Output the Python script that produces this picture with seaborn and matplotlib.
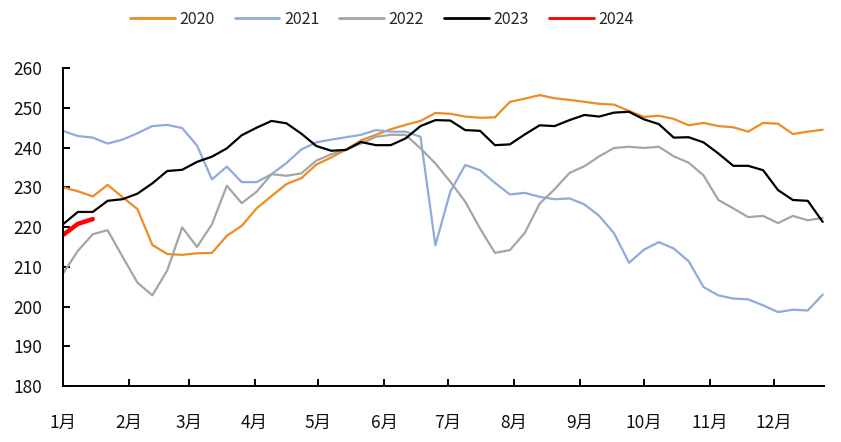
import numpy as np
import pandas as pd
import matplotlib
matplotlib.use("Agg")
import matplotlib.pyplot as plt
import seaborn as sns

# weekly values, one point per week starting at 1月
y2020 = [230, 229, 227.7, 230.6, 227.5, 224.5, 215.5, 213.2, 213, 213.4,
         213.5, 217.8, 220.3, 224.7, 227.8, 230.8, 232.3, 235.7, 237.5, 239.5,
         241.8, 243.2, 244.6, 245.7, 246.7, 248.7, 248.5, 247.8, 247.5, 247.6,
         251.5, 252.3, 253.2, 252.4, 252, 251.5, 251, 250.8, 249.2, 247.7,
         248, 247.2, 245.6, 246.2, 245.4, 245.1, 244, 246.2, 246, 243.4,
         244, 244.5]
y2021 = [244.2, 242.9, 242.5, 241, 242, 243.6, 245.4, 245.7, 244.9, 240.5,
         232, 235.2, 231.3, 231.3, 233.3, 236.1, 239.5, 241.3, 242, 242.6,
         243.2, 244.4, 244, 244, 242.7, 215.4, 228.9, 235.6, 234.3, 231.1,
         228.2, 228.6, 227.6, 227, 227.2, 225.7, 222.8, 218.4, 211, 214.3,
         216.2, 214.6, 211.4, 204.9, 202.8, 202, 201.8, 200.3, 198.6, 199.2,
         199, 203]
y2022 = [208.3, 214, 218.2, 219.2, 212.5, 206, 202.8, 209.1, 219.9, 215,
         220.7, 230.4, 226, 228.9, 233.3, 232.9, 233.5, 236.7, 238.3, 239.5,
         241, 242.7, 243.2, 243.2, 239.8, 236, 231.4, 226.4, 219.6, 213.5,
         214.2, 218.5, 225.9, 229.5, 233.6, 235.3, 237.8, 239.9, 240.2, 239.9,
         240.2, 237.8, 236.2, 233, 226.8, 224.7, 222.5, 222.8, 221, 222.8,
         221.7, 222.3]
y2023 = [220.7, 223.8, 223.8, 226.6, 227, 228.4, 231, 234.1, 234.4, 236.4,
         237.7, 239.8, 243.1, 245, 246.7, 246.1, 243.5, 240.4, 239.2, 239.4,
         241.4, 240.6, 240.6, 242.3, 245.4, 246.9, 246.8, 244.4, 244.2, 240.6,
         240.8, 243.3, 245.6, 245.4, 246.9, 248.2, 247.8, 248.8, 249, 247.1,
         245.9, 242.5, 242.6, 241.3, 238.5, 235.4, 235.4, 234.3, 229.3, 226.8,
         226.6, 221.3]
y2024 = [218, 220.8, 222]

years = ["2020", "2021", "2022", "2023", "2024"]
series = [y2020, y2021, y2022, y2023, y2024]
colors = ["#F08A24", "#8FAADC", "#A5A5A5", "#000000", "#FF0000"]
widths = [1.6, 1.6, 1.6, 1.6, 3.2]

months = ["1月", "2月", "3月", "4月", "5月", "6月", "7月", "8月", "9月", "10月", "11月", "12月"]
month_start_day = [0, 31, 59, 90, 120, 151, 181, 212, 243, 273, 304, 334]

sns.set_style("white")
plt.rcParams["font.family"] = ["Noto Sans CJK SC", "DejaVu Sans"]

fig = plt.figure(figsize=(8.41, 4.42), dpi=100)
ax = fig.add_axes([0.0749, 0.1267, 0.9051, 0.7193])

for year, vals, c, lw in zip(years, series, colors, widths):
    d = pd.DataFrame({"week": np.arange(len(vals)), "value": vals})
    sns.lineplot(data=d, x="week", y="value", color=c, linewidth=lw, label=year, ax=ax)

ax.set_xlim(0, 51.1)
ax.set_ylim(180, 260)
ax.set_yticks(range(180, 261, 10))
ax.set_xticks([d / 7 for d in month_start_day])
ax.set_xticklabels(months)
ax.set_xlabel("")
ax.set_ylabel("")

for s in ["top", "right"]:
    ax.spines[s].set_visible(False)
for s in ["left", "bottom"]:
    ax.spines[s].set_color("black")
    ax.spines[s].set_linewidth(1.4)

ax.tick_params(axis="y", left=True, direction="in", length=5, width=1.4, color="black",
               pad=15, labelsize=12.5, labelcolor="#111111")
ax.tick_params(axis="x", bottom=True, direction="in", length=5, width=1.4, color="black",
               pad=20, labelsize=12.5, labelcolor="#111111")
ax.xaxis.get_major_ticks()[0].tick1line.set_visible(False)

ax.legend_.remove()
handles, labels = ax.get_legend_handles_labels()
leg = fig.legend(handles, labels, loc="center", bbox_to_anchor=(0.454, 0.957), ncol=5,
                 frameon=False, fontsize=11.5, handlelength=2.8, handletextpad=0.3,
                 columnspacing=1.25)
for h in leg.get_lines():
    h.set_linewidth(2)

fig.savefig("out.png", dpi=100)
